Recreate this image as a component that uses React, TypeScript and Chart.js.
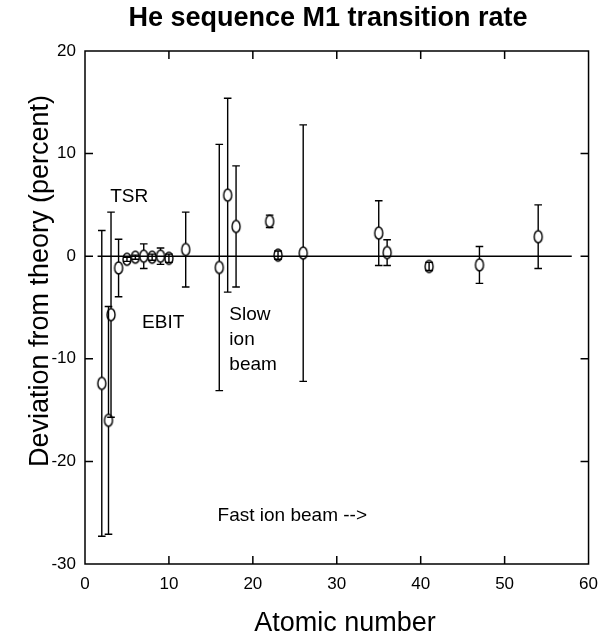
import React, { useEffect, useRef } from "react";
import { Chart, registerables } from "chart.js";

Chart.register(...registerables);

// ---- data ----
const atomicNumbers = [2, 2.8, 3.1, 4, 5, 6, 7, 8, 9, 10, 12, 16, 17, 18, 22, 23, 26, 35, 36, 41, 47, 54];
const deviations = [-12.4, -16.0, -5.7, -1.15, -0.3, -0.1, 0.0, -0.1, 0.0, -0.2, 0.65, -1.1, 5.95, 2.9, 3.4, 0.1, 0.3, 2.25, 0.35, -1.0, -0.85, 1.9];
const errors = [14.9, 11.1, 10.0, 2.8, 0.2, 0.2, 1.2, 0.3, 0.8, 0.4, 3.65, 12.0, 9.45, 5.9, 0.6, 0.4, 12.5, 3.15, 1.25, 0.4, 1.8, 3.1];

const zeroLineX = [1.5, 58];
const zeroLineY = [0, 0];

const xTicks = [0, 10, 20, 30, 40, 50, 60];
const yTicks = [-30, -20, -10, 0, 10, 20];

const annotationTexts = ["TSR", "EBIT", "Slow\nion\nbeam", "Fast ion beam -->"];
const annotationX = [3.0, 6.8, 17.2, 15.8];
const annotationY = [5.3, -7.0, -6.25, -25.8];

const TITLE = "He sequence M1 transition rate";
const X_TITLE = "Atomic number";
const Y_TITLE = "Deviation from theory (percent)";

const FONT = "'Liberation Sans', Arial, Helvetica, sans-serif";

function makeMarker(): HTMLCanvasElement {
  const c = document.createElement("canvas");
  c.width = 12;
  c.height = 16;
  const g = c.getContext("2d")!;
  g.strokeStyle = "#000";
  g.lineWidth = 1.4;
  g.beginPath();
  g.ellipse(6, 8, 4.0, 6.0, 0, 0, Math.PI * 2);
  g.stroke();
  return c;
}

const MARKER_RY = 6;

const errorBarPlugin = {
  id: "errorBars",
  afterDatasetsDraw(chart: any) {
    const { ctx } = chart;
    const xs = chart.scales.x;
    const ys = chart.scales.y;
    ctx.save();
    ctx.strokeStyle = "#000";
    ctx.lineWidth = 1.4;
    const cap = 3.8;
    for (let i = 0; i < atomicNumbers.length; i++) {
      const e = errors[i];
      if (!e) continue;
      const px = xs.getPixelForValue(atomicNumbers[i]);
      const pc = ys.getPixelForValue(deviations[i]);
      const pt = ys.getPixelForValue(deviations[i] + e);
      const pb = ys.getPixelForValue(deviations[i] - e);
      ctx.beginPath();
      if (pc - pt > MARKER_RY) {
        ctx.moveTo(px, pt);
        ctx.lineTo(px, pc - MARKER_RY);
        ctx.moveTo(px, pc + MARKER_RY);
        ctx.lineTo(px, pb);
      } else {
        ctx.moveTo(px, pt);
        ctx.lineTo(px, pb);
      }
      ctx.moveTo(px - cap, pt);
      ctx.lineTo(px + cap, pt);
      ctx.moveTo(px - cap, pb);
      ctx.lineTo(px + cap, pb);
      ctx.stroke();
    }
    ctx.restore();
  },
};

const framePlugin = {
  id: "frame",
  afterDraw(chart: any) {
    const { ctx, chartArea } = chart;
    const { left, right, top, bottom } = chartArea;
    const xs = chart.scales.x;
    const ys = chart.scales.y;
    const tl = 8;
    ctx.save();
    ctx.strokeStyle = "#000";
    ctx.lineWidth = 1.5;
    ctx.beginPath();
    ctx.rect(left, top, right - left, bottom - top);
    for (const v of xTicks) {
      const p = xs.getPixelForValue(v);
      ctx.moveTo(p, bottom);
      ctx.lineTo(p, bottom - tl);
      ctx.moveTo(p, top);
      ctx.lineTo(p, top + tl);
    }
    for (const v of yTicks) {
      const p = ys.getPixelForValue(v);
      ctx.moveTo(left, p);
      ctx.lineTo(left + tl, p);
      ctx.moveTo(right, p);
      ctx.lineTo(right - tl, p);
    }
    ctx.stroke();

    ctx.fillStyle = "#000";

    // annotations
    ctx.font = `19px ${FONT}`;
    ctx.textAlign = "left";
    ctx.textBaseline = "alphabetic";
    for (let i = 0; i < annotationTexts.length; i++) {
      const x = xs.getPixelForValue(annotationX[i]);
      const y = ys.getPixelForValue(annotationY[i]);
      const lines = annotationTexts[i].split("\n");
      lines.forEach((ln, k) => ctx.fillText(ln, x, y + k * 25));
    }

    // chart title
    ctx.font = `bold 27px ${FONT}`;
    ctx.textAlign = "center";
    ctx.fillText(TITLE, 328, 26);

    // x axis title
    ctx.font = `27px ${FONT}`;
    ctx.fillText(X_TITLE, 345, 631);

    // y axis title
    ctx.save();
    ctx.translate(48, 281);
    ctx.rotate(-Math.PI / 2);
    ctx.fillText(Y_TITLE, 0, 0);
    ctx.restore();

    ctx.restore();
  },
};

export default function App() {
  const ref = useRef<HTMLCanvasElement>(null);

  useEffect(() => {
    const canvas = ref.current;
    if (!canvas) return;
    const marker = makeMarker();
    const chart = new Chart(canvas, {
      type: "scatter",
      data: {
        datasets: [
          {
            label: "points",
            data: atomicNumbers.map((x, i) => ({ x, y: deviations[i] })),
            pointStyle: marker as any,
            pointRadius: 6,
            showLine: false,
          },
          {
            type: "line",
            label: "zero",
            data: zeroLineX.map((x, i) => ({ x, y: zeroLineY[i] })),
            borderColor: "#000",
            borderWidth: 1.4,
            pointRadius: 0,
            showLine: true,
          } as any,
        ],
      },
      options: {
        responsive: false,
        animation: false,
        events: [],
        layout: { padding: { top: 51, right: 10, left: 0, bottom: 0 } },
        plugins: {
          legend: { display: false },
          tooltip: { enabled: false },
          title: { display: false },
        },
        scales: {
          x: {
            type: "linear",
            min: 0,
            max: 60,
            afterBuildTicks: (s: any) => {
              s.ticks = xTicks.map((v) => ({ value: v }));
            },
            afterFit: (s: any) => {
              s.height = 72;
            },
            grid: { display: false, drawTicks: false },
            border: { display: false },
            ticks: {
              color: "#000",
              padding: 10,
              font: { family: FONT, size: 17 },
              maxRotation: 0,
            },
          },
          y: {
            type: "linear",
            min: -30,
            max: 20,
            afterBuildTicks: (s: any) => {
              s.ticks = yTicks.map((v) => ({ value: v }));
            },
            afterFit: (s: any) => {
              s.width = 85;
            },
            grid: { display: false, drawTicks: false },
            border: { display: false },
            ticks: {
              color: "#000",
              padding: 9,
              font: { family: FONT, size: 17 },
            },
          },
        },
      },
      plugins: [errorBarPlugin, framePlugin],
    });
    return () => chart.destroy();
  }, []);

  return (
    <div style={{ position: "absolute", left: 0, top: 0, width: 608, height: 636, background: "#fff" }}>
      <canvas ref={ref} width={608} height={636} style={{ display: "block" }} />
    </div>
  );
}
